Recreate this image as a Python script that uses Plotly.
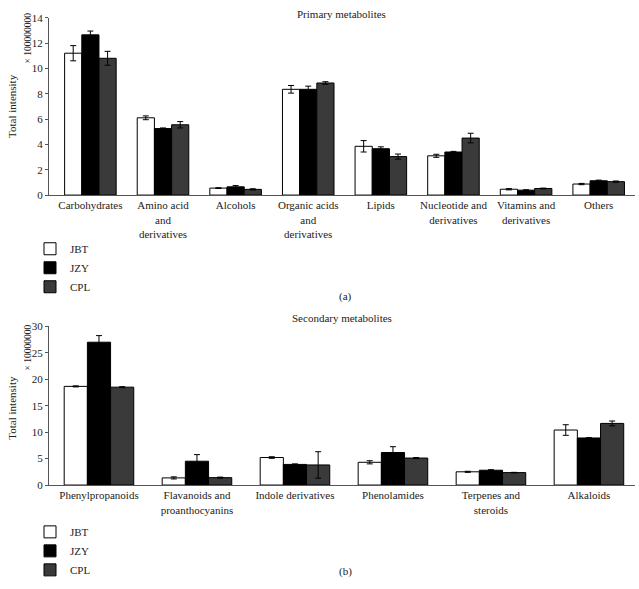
import plotly.graph_objects as go

# ---------- data ----------
primary_cats = ["Carbohydrates", "Amino acid<br>and<br>derivatives", "Alcohols",
                "Organic acids<br>and<br>derivatives", "Lipids",
                "Nucleotide and<br>derivatives", "Vitamins and<br>derivatives", "Others"]
primary_jbt = [11.2, 6.1, 0.55, 8.35, 3.85, 3.1, 0.46, 0.87]
primary_jbt_err = [0.6, 0.15, 0.03, 0.3, 0.45, 0.12, 0.05, 0.05]
primary_jzy = [12.65, 5.25, 0.65, 8.35, 3.66, 3.4, 0.39, 1.13]
primary_jzy_err = [0.3, 0.05, 0.1, 0.25, 0.15, 0.05, 0.03, 0.05]
primary_cpl = [10.8, 5.55, 0.45, 8.85, 3.04, 4.5, 0.52, 1.06]
primary_cpl_err = [0.55, 0.25, 0.05, 0.1, 0.2, 0.38, 0.03, 0.05]

secondary_cats = ["Phenylpropanoids", "Flavanoids and<br>proanthocyanins",
                  "Indole derivatives", "Phenolamides", "Terpenes and<br>steroids", "Alkaloids"]
secondary_jbt = [18.65, 1.35, 5.2, 4.3, 2.5, 10.4]
secondary_jbt_err = [0.1, 0.2, 0.15, 0.3, 0.1, 1.0]
secondary_jzy = [27.0, 4.5, 3.9, 6.15, 2.8, 8.9]
secondary_jzy_err = [1.25, 1.25, 0.1, 1.1, 0.1, 0.05]
secondary_cpl = [18.5, 1.4, 3.8, 5.1, 2.35, 11.65]
secondary_cpl_err = [0.1, 0.1, 2.5, 0.1, 0.05, 0.45]

series = ["JBT", "JZY", "CPL"]
colors = ["#ffffff", "#000000", "#3a3a3a"]

FONT = "Liberation Serif"
AX = "#555555"

fig = go.Figure()

def add_panel(cats, vals, errs, xa, ya, legend):
    for name, col, v, e in zip(series, colors, vals, errs):
        fig.add_trace(go.Bar(
            x=cats, y=v, name=name, xaxis=xa, yaxis=ya, legend=legend,
            marker=dict(color=col, line=dict(color="#000000", width=1)),
            error_y=dict(type="data", array=e, visible=True, color="#000000",
                         thickness=1, width=3),
        ))

add_panel(primary_cats, [primary_jbt, primary_jzy, primary_cpl],
          [primary_jbt_err, primary_jzy_err, primary_cpl_err], "x", "y", "legend")
add_panel(secondary_cats, [secondary_jbt, secondary_jzy, secondary_cpl],
          [secondary_jbt_err, secondary_jzy_err, secondary_cpl_err], "x2", "y2", "legend2")

W, H = 639, 589
def py(pix):
    return 1 - pix / H

xdom = [49 / W, 635 / W]
axis_common = dict(showline=True, linecolor=AX, linewidth=1, showgrid=False,
                   zeroline=False, tickfont=dict(family=FONT, size=11, color="#222"))

fig.update_layout(
    width=W, height=H,
    margin=dict(l=0, r=0, t=0, b=0),
    paper_bgcolor="white", plot_bgcolor="white",
    font=dict(family=FONT, size=11, color="#222"),
    barmode="group", bargap=0.29, bargroupgap=0,
    xaxis=dict(domain=xdom, anchor="y", range=[-0.57, 7.5], ticks="",
               **axis_common),
    yaxis=dict(domain=[py(193), py(12)], anchor="x", range=[0, 14], dtick=2,
               ticks="outside", ticklen=3, tickcolor=AX, **axis_common),
    xaxis2=dict(domain=xdom, anchor="y2", range=[-0.51, 5.47], ticks="",
                **axis_common),
    yaxis2=dict(domain=[py(489), py(327)], anchor="x2", range=[0, 30], dtick=5,
                ticks="outside", ticklen=3, tickcolor=AX, **axis_common),
    legend=dict(x=30 / W, y=py(233), xanchor="left", yanchor="top",
                font=dict(family=FONT, size=11, color="#222"),
                bgcolor="rgba(0,0,0,0)", tracegroupgap=0, itemwidth=30),
    legend2=dict(x=30 / W, y=py(522), xanchor="left", yanchor="top",
                 font=dict(family=FONT, size=11, color="#222"),
                 bgcolor="rgba(0,0,0,0)", tracegroupgap=0, itemwidth=30),
)

ann = dict(xref="paper", yref="paper", showarrow=False,
           font=dict(family=FONT, size=11, color="#222"))
small = dict(xref="paper", yref="paper", showarrow=False,
             font=dict(family=FONT, size=9.5, color="#222"))
fig.add_annotation(text="Primary metabolites", x=342 / W, y=py(0), yanchor="top", **ann)
fig.add_annotation(text="(a)", x=345 / W, y=py(297), yanchor="middle", **ann)
fig.add_annotation(text="Secondary metabolites", x=342 / W, y=py(318), yanchor="middle", **ann)
fig.add_annotation(text="(b)", x=345 / W, y=py(577), yanchor="middle", **ann)
fig.add_annotation(text="Total intensity", x=12 / W, y=py(102), textangle=-90,
                   xanchor="center", yanchor="middle", **ann)
fig.add_annotation(text="× 100000000", x=28 / W, y=py(5), textangle=-90,
                   xanchor="center", yanchor="top", **small)
fig.add_annotation(text="Total intensity", x=12 / W, y=py(410), textangle=-90,
                   xanchor="center", yanchor="middle", **ann)
fig.add_annotation(text="× 10000000", x=28 / W, y=py(323), textangle=-90,
                   xanchor="center", yanchor="top", **small)

fig.write_html("out.html", config={"displayModeBar": False},
               post_script="document.body.style.margin='0';document.body.style.overflow='hidden';")
